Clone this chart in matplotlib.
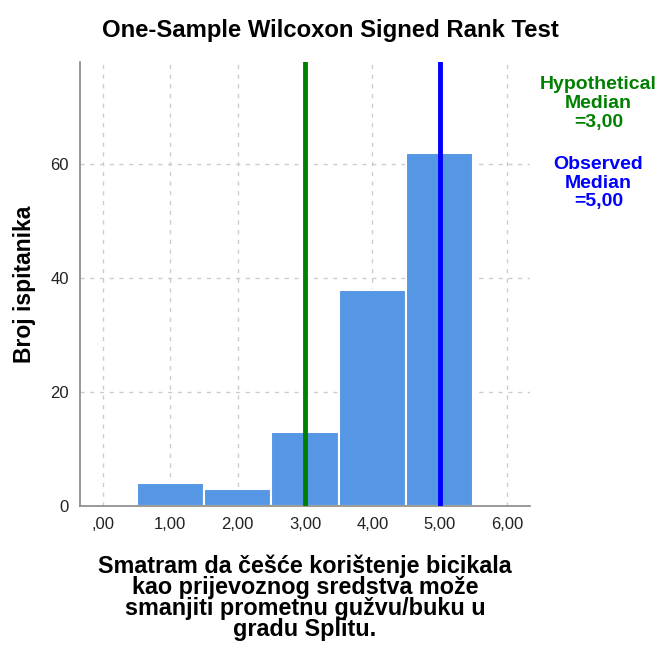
import matplotlib
matplotlib.use("Agg")
import matplotlib.pyplot as plt

plt.rcParams['font.family'] = ['Liberation Sans', 'DejaVu Sans']

categories = [1, 2, 3, 4, 5]
counts = [4, 3, 13, 38, 62]
xticks = [0, 1, 2, 3, 4, 5, 6]
xtick_labels = [',00', '1,00', '2,00', '3,00', '4,00', '5,00', '6,00']
yticks = [0, 20, 40, 60]
hyp_median = 3.0
obs_median = 5.0

fig = plt.figure(figsize=(6.57, 6.49), dpi=100)
ax = fig.add_axes([0.1218, 0.2203, 0.6849, 0.6842])

ax.bar(categories, counts, width=1.0, color='#5596e5', edgecolor='white', linewidth=1.5, zorder=2)
ax.axvline(hyp_median, color='#008000', linewidth=3.5, zorder=3)
ax.axvline(obs_median, color='#0000ff', linewidth=3.5, zorder=3)

ax.set_xlim(-0.34, 6.34)
ax.set_ylim(0, 78)
ax.set_xticks(xticks)
ax.set_xticklabels(xtick_labels)
ax.set_yticks(yticks)
ax.tick_params(length=0, labelsize=12, colors='#222222', pad=8)
ax.grid(True, linestyle=(0, (3, 4)), color='#cccccc', linewidth=1, zorder=0)
ax.set_axisbelow(True)
for s in ['top', 'right']:
    ax.spines[s].set_visible(False)
for s in ['left', 'bottom']:
    ax.spines[s].set_color('#888888')
    ax.spines[s].set_linewidth(1.2)

ax.set_ylabel('Broj ispitanika', fontsize=16.5, fontweight='bold', labelpad=10)
ax.set_xlabel('Smatram da češće korištenje bicikala\nkao prijevoznog sredstva može\nsmanjiti prometnu gužvu/buku u\ngradu Splitu.',
              fontsize=16.8, fontweight='bold', labelpad=16, linespacing=0.89)

fig.text(0.503, 0.953, 'One-Sample Wilcoxon Signed Rank Test', ha='center', va='center',
         fontsize=17.2, fontweight='bold')

fig.text(0.911, 0.840, 'Hypothetical\nMedian\n=3,00', ha='center', va='center', color='#008000',
         fontsize=14, fontweight='bold', linespacing=1.15)
fig.text(0.911, 0.718, 'Observed\nMedian\n=5,00', ha='center', va='center', color='#0000ff',
         fontsize=14, fontweight='bold', linespacing=1.15)

fig.savefig('out.png', dpi=100)
